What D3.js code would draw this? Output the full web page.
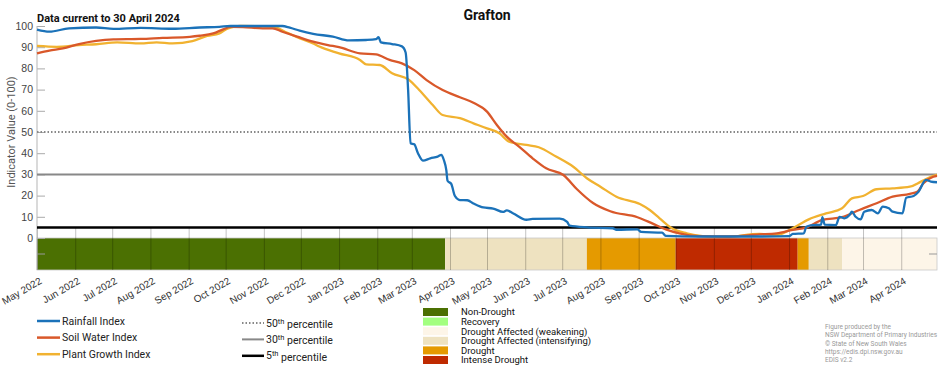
<!DOCTYPE html>
<html>
<head>
<meta charset="utf-8">
<script src="https://d3js.org/d3.v7.min.js"></script>
<style>
  body { margin: 0; background: #fff; }
  svg { font-family: Roboto, "Liberation Sans", sans-serif; }
</style>
</head>
<body>
<svg width="952" height="370"></svg>
<script>
// Rainfall Index
var rainDates = ["2022-05-01","2022-05-11","2022-05-27","2022-06-18","2022-07-02","2022-07-24","2022-08-19","2022-09-10","2022-09-26","2022-10-05","2022-11-16","2022-11-22","2022-11-30","2022-12-11","2022-12-27","2023-01-09","2023-01-23","2023-01-31","2023-02-02","2023-02-04","2023-02-13","2023-02-21","2023-02-24","2023-02-26","2023-02-28","2023-03-03","2023-03-06","2023-03-10","2023-03-16","2023-03-22","2023-03-25","2023-03-27","2023-03-29","2023-03-30","2023-04-02","2023-04-05","2023-04-09","2023-04-15","2023-04-20","2023-04-28","2023-05-06","2023-05-14","2023-05-17","2023-05-22","2023-06-02","2023-06-07","2023-06-29","2023-07-05","2023-07-07","2023-07-21","2023-08-11","2023-08-14","2023-08-31","2023-09-03","2023-09-20","2023-09-23","2023-10-20","2023-12-08","2024-01-01","2024-01-04","2024-01-13","2024-01-15","2024-01-20","2024-01-27","2024-01-28","2024-01-30","2024-02-08","2024-02-11","2024-02-15","2024-02-19","2024-02-21","2024-02-24","2024-02-28","2024-03-02","2024-03-08","2024-03-13","2024-03-17","2024-03-22","2024-03-25","2024-04-02","2024-04-05","2024-04-11","2024-04-15","2024-04-21","2024-04-25","2024-04-30"];
var rainValues = [98.3,97.3,98.9,99.3,98.6,99.1,98.7,99.3,99.6,100,100,99.2,97.8,96.3,95.0,93.2,93.4,93.8,94.7,92.3,91.5,90.4,87.5,70,44.7,44.2,40,36.5,37.6,38.4,39.2,36.8,32,27,25.5,19.8,17.9,17.8,16.3,14.4,13.9,12.3,13.0,11.7,8.6,9.0,9.1,7.6,5.8,5.0,4.6,3.9,4.1,2.9,2.5,1.0,0.7,0.7,0.9,1.9,2.2,5.3,6.1,6.3,9.8,6.3,6.1,10.0,9.3,10.8,12.4,10.0,8.8,12.4,13.2,11.6,14.8,14.0,12.4,11.6,19.0,19.8,21.8,27.4,26.6,26.3];

// Soil Water Index
var soilDates = ["2022-05-01","2022-05-11","2022-05-22","2022-06-04","2022-06-18","2022-07-02","2022-07-24","2022-08-11","2022-09-02","2022-09-10","2022-09-21","2022-09-29","2022-10-05","2022-10-15","2022-10-31","2022-11-08","2022-11-16","2022-11-28","2022-12-11","2022-12-23","2023-01-01","2023-01-18","2023-01-31","2023-02-11","2023-02-21","2023-03-03","2023-03-13","2023-03-26","2023-04-09","2023-04-20","2023-05-01","2023-05-09","2023-05-17","2023-05-27","2023-06-07","2023-06-18","2023-07-02","2023-07-13","2023-07-26","2023-08-09","2023-08-31","2023-09-12","2023-09-23","2023-10-04","2023-10-20","2023-11-11","2023-12-08","2023-12-22","2024-01-04","2024-01-15","2024-01-28","2024-02-13","2024-02-27","2024-03-12","2024-03-25","2024-04-08","2024-04-14","2024-04-19","2024-04-27","2024-04-30"];
var soilValues = [87.1,88.4,89.4,91.5,93.0,93.7,93.9,94.4,94.9,95.4,96.5,98.4,99.6,99.5,98.9,98.9,97.3,95.0,92.6,91.0,90.0,87.1,86.6,84.0,82.4,79.2,74.5,69.8,66.4,63.8,59.6,53.3,47.8,43.1,37.6,32.9,29.7,23.0,16.5,12.6,9.8,6.9,4.1,2.2,0.9,0.7,1.7,2.2,3.8,4.9,8.5,9.8,13.2,16.4,19.5,20.8,21.8,25.8,28.9,29.3];

// Plant Growth Index
var plantDates = ["2022-05-01","2022-05-17","2022-06-04","2022-06-18","2022-07-05","2022-07-24","2022-08-06","2022-08-19","2022-09-04","2022-09-16","2022-09-26","2022-10-03","2022-10-13","2022-11-08","2022-11-20","2022-11-28","2022-12-11","2022-12-16","2023-01-01","2023-01-18","2023-01-23","2023-02-03","2023-02-13","2023-02-27","2023-03-07","2023-03-18","2023-03-26","2023-04-09","2023-04-20","2023-05-01","2023-05-11","2023-05-19","2023-06-02","2023-06-12","2023-06-26","2023-07-10","2023-07-21","2023-08-01","2023-08-14","2023-09-02","2023-09-10","2023-09-18","2023-09-28","2023-10-10","2023-10-23","2023-11-11","2023-12-08","2023-12-22","2024-01-04","2024-01-17","2024-01-31","2024-02-13","2024-02-21","2024-03-01","2024-03-12","2024-03-25","2024-04-08","2024-04-17","2024-04-25","2024-04-30"];
var plantValues = [90.6,90.2,91.0,91.4,92.3,91.8,92.3,91.8,92.9,95.3,96.5,98.9,100,99.7,96.8,94.7,91.8,90.3,87.1,84.0,81.9,81.6,77.7,74.5,69.8,62.7,58.0,56.5,54.1,51.7,49.4,45.4,43.9,42.8,38.4,33.6,28.2,24.2,19.5,16.0,13.2,9.3,4.6,2.2,0.9,0.5,1.9,1.4,4.6,8.8,11.6,14.0,18.7,19.8,23.0,23.4,24.2,26.6,28.9,29.8];

// drought category periods
var droughtStarts = ["2022-05-01","2023-03-28","2023-07-21","2023-10-01","2024-01-08","2024-01-17","2024-02-13"];
var droughtEnds   = ["2023-03-28","2023-07-21","2023-10-01","2024-01-08","2024-01-17","2024-02-13","2024-04-30"];
var droughtCats   = [0,3,4,5,4,3,2];

var catNames  = ["Non-Drought","Recovery","Drought Affected (weakening)","Drought Affected (intensifying)","Drought","Intense Drought"];
var catColors = ["#4b7002","#a3ff80","#fdf5e8","#eee2c0","#e59a00","#bf2a00"];

var percentiles = [50, 30, 5];
var yTicks = [0,10,20,30,40,50,60,70,80,90,100];

var parse = d3.utcParse("%Y-%m-%d");
var svg = d3.select("svg");

var x = d3.scaleUtc().domain([parse("2022-05-01"), parse("2024-04-30")]).range([37, 937]);
var y = d3.scaleLinear().domain([0, 100]).range([238, 26]);
var bandTop = 238, bandBottom = 270;

// drought band
svg.append("g").selectAll("rect")
  .data(droughtStarts)
  .enter().append("rect")
  .attr("x", function(d) { return x(parse(d)); })
  .attr("width", function(d, i) { return x(parse(droughtEnds[i])) - x(parse(d)); })
  .attr("y", bandTop)
  .attr("height", bandBottom - bandTop)
  .attr("fill", function(d, i) { return catColors[droughtCats[i]]; });

svg.append("rect")
  .attr("x", 37).attr("y", bandTop)
  .attr("width", 900).attr("height", bandBottom - bandTop)
  .attr("fill", "none").attr("stroke", "#c8c8c8").attr("stroke-width", 0.8);

// x axis (month ticks reaching up over the band)
var months = d3.utcMonth.range(parse("2022-05-01"), parse("2024-05-01"));
var xAxis = svg.append("g")
  .attr("transform", "translate(0," + bandBottom + ")")
  .call(d3.axisBottom(x).tickValues(months).tickFormat(d3.utcFormat("%b %Y"))
    .tickSizeInner(-42).tickSizeOuter(0).tickPadding(0));
xAxis.select(".domain").remove();
xAxis.selectAll(".tick line").attr("stroke", "rgba(0,0,0,0.3)").attr("stroke-width", 0.8);
xAxis.selectAll(".tick text")
  .attr("y", 0).attr("dy", null)
  .attr("transform", "translate(5,13) rotate(-30)")
  .style("text-anchor", "end")
  .attr("font-size", 10).attr("fill", "#333");

// y axis
var yAxis = svg.append("g")
  .attr("transform", "translate(37,0)")
  .call(d3.axisLeft(y).tickValues(yTicks).tickSizeInner(-8).tickSizeOuter(0).tickPadding(4));
yAxis.select(".domain").remove();
yAxis.selectAll(".tick line").attr("stroke", "#aaa");
yAxis.selectAll(".tick text").attr("font-size", 10.5).attr("fill", "#444");

svg.append("line").attr("x1", 37).attr("x2", 37).attr("y1", 26).attr("y2", bandBottom)
  .attr("stroke", "#b5b5b5").attr("stroke-width", 1);
svg.append("line").attr("x1", 37).attr("x2", 45).attr("y1", 254).attr("y2", 254).attr("stroke", "#999");
svg.append("line").attr("x1", 929).attr("x2", 937).attr("y1", 254).attr("y2", 254).attr("stroke", "#999");

// percentile lines
var pStyle = [
  { color: "#888", width: 2, dash: "1.5,2" },
  { color: "#888", width: 2, dash: null },
  { color: "#000", width: 2.5, dash: null }
];
svg.append("g").selectAll("line")
  .data(percentiles)
  .enter().append("line")
  .attr("x1", 37).attr("x2", 937)
  .attr("y1", function(d) { return y(d); })
  .attr("y2", function(d) { return y(d); })
  .attr("stroke", function(d, i) { return pStyle[i].color; })
  .attr("stroke-width", function(d, i) { return pStyle[i].width; })
  .attr("stroke-dasharray", function(d, i) { return pStyle[i].dash; });

// series
var series = [
  { name: "Rainfall Index", dates: rainDates, values: rainValues, color: "#1b72b9" },
  { name: "Soil Water Index", dates: soilDates, values: soilValues, color: "#d9582a" },
  { name: "Plant Growth Index", dates: plantDates, values: plantValues, color: "#f1b230" }
];
var line = d3.line()
  .x(function(d) { return x(d[0]); })
  .y(function(d) { return y(d[1]); })
  .curve(d3.curveMonotoneX);

// draw plant first so rainfall sits on top like the original
[series[2], series[1], series[0]].forEach(function(s) {
  var pts = s.dates.map(function(d, i) { return [parse(d), s.values[i]]; });
  svg.append("path")
    .attr("d", line(pts))
    .attr("fill", "none")
    .attr("stroke", s.color)
    .attr("stroke-width", 2.3)
    .attr("stroke-linejoin", "round");
});

// titles
svg.append("text").attr("x", 487).attr("y", 20).attr("text-anchor", "middle")
  .attr("font-size", 14).attr("font-weight", "bold").attr("fill", "#111").text("Grafton");
svg.append("text").attr("x", 37).attr("y", 22)
  .attr("font-size", 11).attr("font-weight", "bold").attr("fill", "#111").text("Data current to 30 April 2024");
svg.append("text").attr("transform", "translate(15,132) rotate(-90)").attr("text-anchor", "middle")
  .attr("font-size", 11).attr("fill", "#555").text("Indicator Value (0-100)");

// legend: series
var leg1 = svg.append("g").selectAll("g").data(series).enter().append("g")
  .attr("transform", function(d, i) { return "translate(37," + (321 + i * 16.6) + ")"; });
leg1.append("line").attr("x1", 0).attr("x2", 23).attr("stroke", function(d) { return d.color; }).attr("stroke-width", 2.5);
leg1.append("text").attr("x", 25).attr("dy", "0.35em").attr("font-size", 10.5).attr("fill", "#222")
  .text(function(d) { return d.name; });

// legend: percentiles
var leg2 = svg.append("g").selectAll("g").data(percentiles).enter().append("g")
  .attr("transform", function(d, i) { return "translate(242," + (323 + i * 16.4) + ")"; });
leg2.append("line").attr("x1", 0).attr("x2", 22)
  .attr("stroke", function(d, i) { return pStyle[i].color; })
  .attr("stroke-width", function(d, i) { return pStyle[i].width; })
  .attr("stroke-dasharray", function(d, i) { return pStyle[i].dash; });
var t2 = leg2.append("text").attr("x", 24).attr("dy", "0.35em").attr("font-size", 10.5).attr("fill", "#222");
t2.append("tspan").text(function(d) { return d; });
t2.append("tspan").attr("dy", "-0.4em").attr("font-size", 7.5).text("th");
t2.append("tspan").attr("dy", "0.4em").text(" percentile");

// legend: drought categories
var leg3 = svg.append("g").selectAll("g").data(catNames).enter().append("g")
  .attr("transform", function(d, i) { return "translate(423," + (312 + i * 9.6) + ")"; });
leg3.append("rect").attr("x", 0).attr("y", -4).attr("width", 25).attr("height", 8)
  .attr("fill", function(d, i) { return catColors[i]; });
leg3.append("text").attr("x", 38).attr("dy", "0.35em").attr("font-size", 9.5).attr("fill", "#111")
  .text(function(d) { return d; });

// credits
var credits = ["Figure produced by the", "NSW Department of Primary Industries", "\u00a9 State of New South Wales", "https://edis.dpi.nsw.gov.au", "EDIS v2.2"];
svg.append("g").selectAll("text").data(credits).enter().append("text")
  .attr("x", 825).attr("y", function(d, i) { return 329 + i * 8.3; })
  .attr("font-size", 6.5).attr("fill", "#999").text(function(d) { return d; });
</script>
</body>
</html>
